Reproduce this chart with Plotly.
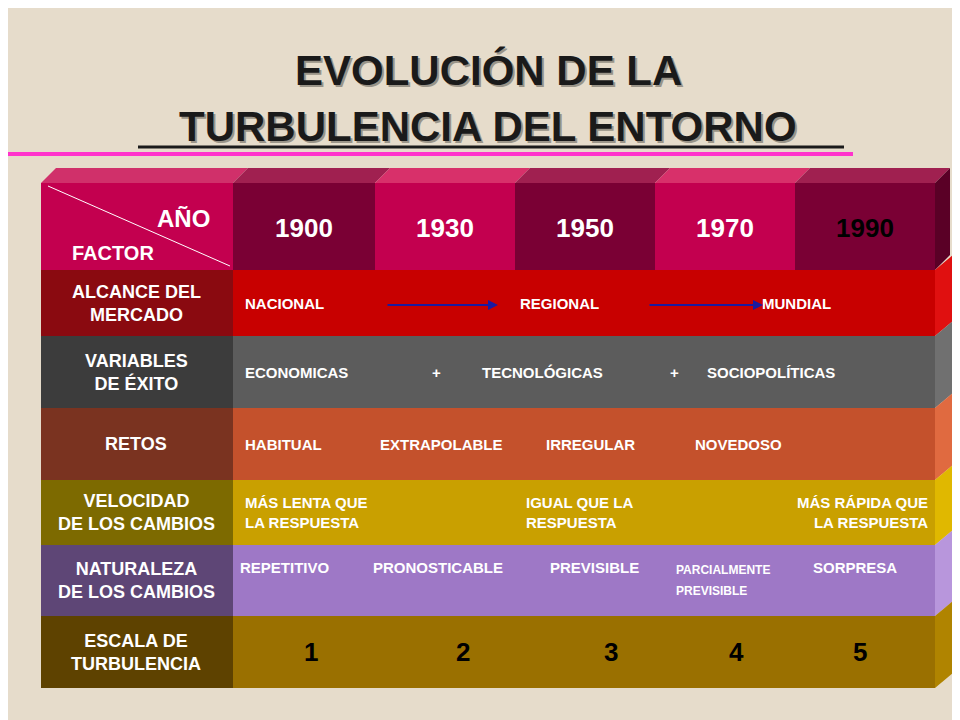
import plotly.graph_objects as go

title_lines = ["EVOLUCIÓN DE LA", "TURBULENCIA DEL ENTORNO"]
years = ["1900", "1930", "1950", "1970", "1990"]
factors = ["ALCANCE DEL<br>MERCADO", "VARIABLES<br>DE ÉXITO", "RETOS", "VELOCIDAD<br>DE LOS CAMBIOS",
           "NATURALEZA<br>DE LOS CAMBIOS", "ESCALA DE<br>TURBULENCIA"]
row_texts = [
    ["NACIONAL", "REGIONAL", "MUNDIAL"],
    ["ECONOMICAS", "+", "TECNOLÓGICAS", "+", "SOCIOPOLÍTICAS"],
    ["HABITUAL", "EXTRAPOLABLE", "IRREGULAR", "NOVEDOSO"],
    ["MÁS LENTA QUE<br>LA RESPUESTA", "IGUAL QUE LA<br>RESPUESTA", "MÁS RÁPIDA QUE<br>LA RESPUESTA"],
    ["REPETITIVO", "PRONOSTICABLE", "PREVISIBLE", "PARCIALMENTE", "SORPRESA", "PREVISIBLE"],
    ["1", "2", "3", "4", "5"],
]

# layout (pixel) geometry
row_y = [(262, 328), (328, 400), (400, 472), (472, 537), (537, 608), (608, 680)]
left_col = ["#8a0a10", "#3c3c3c", "#7a3320", "#7d6a00", "#5e4676", "#5e4200"]
body_col = ["#c80000", "#5c5c5c", "#c4512c", "#c9a000", "#9e78c6", "#9a7000"]
side_col = ["#e01010", "#707070", "#e06a40", "#e0b800", "#b896dc", "#b08400"]
year_col = ["#7a0034", "#c3004f", "#7a0034", "#c3004f", "#7a0034"]
year_x = [(225, 367), (367, 507), (507, 647), (647, 787), (787, 927)]
text_pos = [
    [(235, "left"), (510, "left"), (752, "left")],
    [(235, "left"), (428, "center"), (472, "left"), (666, "center"), (697, "left")],
    [(235, "left"), (370, "left"), (536, "left"), (685, "left")],
    [(235, "left"), (516, "left"), (922, "right")],
    [(230, "left"), (363, "left"), (540, "left"), (666, "left"), (803, "left"), (666, "left")],
    [(303, "center"), (455, "center"), (603, "center"), (728, "center"), (852, "center")],
]
text_dy = [[0]*3, [0]*5, [0]*4, [0]*3, [-13, -13, -13, -11, -13, 10], [0]*5]
text_size = [[15]*3, [15]*5, [15]*4, [15]*3, [15, 15, 15, 12, 15, 12], [26]*5]

shapes, ann = [], []
def rect(x0, y0, x1, y1, c):
    shapes.append(dict(type="rect", x0=x0, y0=y0, x1=x1, y1=y1, fillcolor=c, line=dict(width=0), layer="below"))
def poly(pts, c):
    p = "M " + " L ".join(f"{a},{b}" for a, b in pts) + " Z"
    shapes.append(dict(type="path", path=p, fillcolor=c, line=dict(width=0), layer="below"))

# header
rect(33, 175, 225, 262, "#c3004f")
poly([(33, 175), (48, 160), (240, 160), (225, 175)], "#d0306a")
for (x0, x1), c in zip(year_x, year_col):
    rect(x0, 175, x1, 262, c)
    poly([(x0, 175), (x0 + 15, 160), (x1 + 15, 160), (x1, 175)], "#a02050" if c == "#7a0034" else "#d8306a")
poly([(927, 175), (942, 160), (942, 247), (927, 262)], "#5a0026")
shapes.append(dict(type="line", x0=40, y0=178, x1=222, y1=258, line=dict(color="white", width=1)))
ann.append(dict(x=175, y=210, text="<b>AÑO</b>", font=dict(size=24, color="white")))
ann.append(dict(x=105, y=245, text="<b>FACTOR</b>", font=dict(size=20, color="white")))
for (x0, x1), y in zip(year_x, years):
    ann.append(dict(x=(x0 + x1) / 2, y=220, text=f"<b>{y}</b>",
                    font=dict(size=26, color="black" if y == "1990" else "white")))

for i, (y0, y1) in enumerate(row_y):
    rect(33, y0, 225, y1, left_col[i])
    rect(225, y0, 927, y1, body_col[i])
    poly([(927, y0), (945, y0 - 15), (945, y1 - 15), (927, y1)], side_col[i])
    ann.append(dict(x=128, y=(y0 + y1) / 2, text=f"<b>{factors[i]}</b>", font=dict(size=18, color="white")))
    for t, (x, al), dy, fs in zip(row_texts[i], text_pos[i], text_dy[i], text_size[i]):
        ann.append(dict(x=x, y=(y0 + y1) / 2 + dy, text=f"<b>{t}</b>", xanchor=al,
                        font=dict(size=fs, color="black" if i == 5 else "white"), align=al))

# arrows
for xa, xb in [(378, 490), (640, 755)]:
    ann.append(dict(x=xb, y=297, ax=xa, ay=297, xref="x", yref="y", axref="x", ayref="y",
                    showarrow=True, arrowhead=2, arrowcolor="#1a1aa0", arrowwidth=2, text="",
                    font=dict(size=10)))

# title
for t, y in zip(title_lines, [62, 118]):
    ann.append(dict(x=482, y=y + 2, text=f"<b>{t}</b>", font=dict(size=42, color="#9a9488")))
    ann.append(dict(x=480, y=y, text=f"<b>{t}</b>", font=dict(size=42, color="#1a1a1a")))
shapes.append(dict(type="line", x0=130, y0=139, x1=836, y1=139, line=dict(color="#1a1a1a", width=3)))
shapes.append(dict(type="line", x0=0, y0=146, x1=845, y1=146, line=dict(color="#ff33cc", width=4)))

for a in ann:
    a.setdefault("showarrow", False)
    a.setdefault("xref", "x"); a.setdefault("yref", "y")
    a.setdefault("font", {})
    a["font"]["family"] = "Liberation Sans, Arial"

fig = go.Figure()
fig.update_layout(width=960, height=720, margin=dict(l=0, r=0, t=0, b=0),
                  paper_bgcolor="#e6dccb", plot_bgcolor="#e6dccb",
                  xaxis=dict(range=[0, 960], visible=False, fixedrange=True),
                  yaxis=dict(range=[720, 0], visible=False, fixedrange=True),
                  shapes=shapes, annotations=ann, showlegend=False)
fig.write_html("out.html")
